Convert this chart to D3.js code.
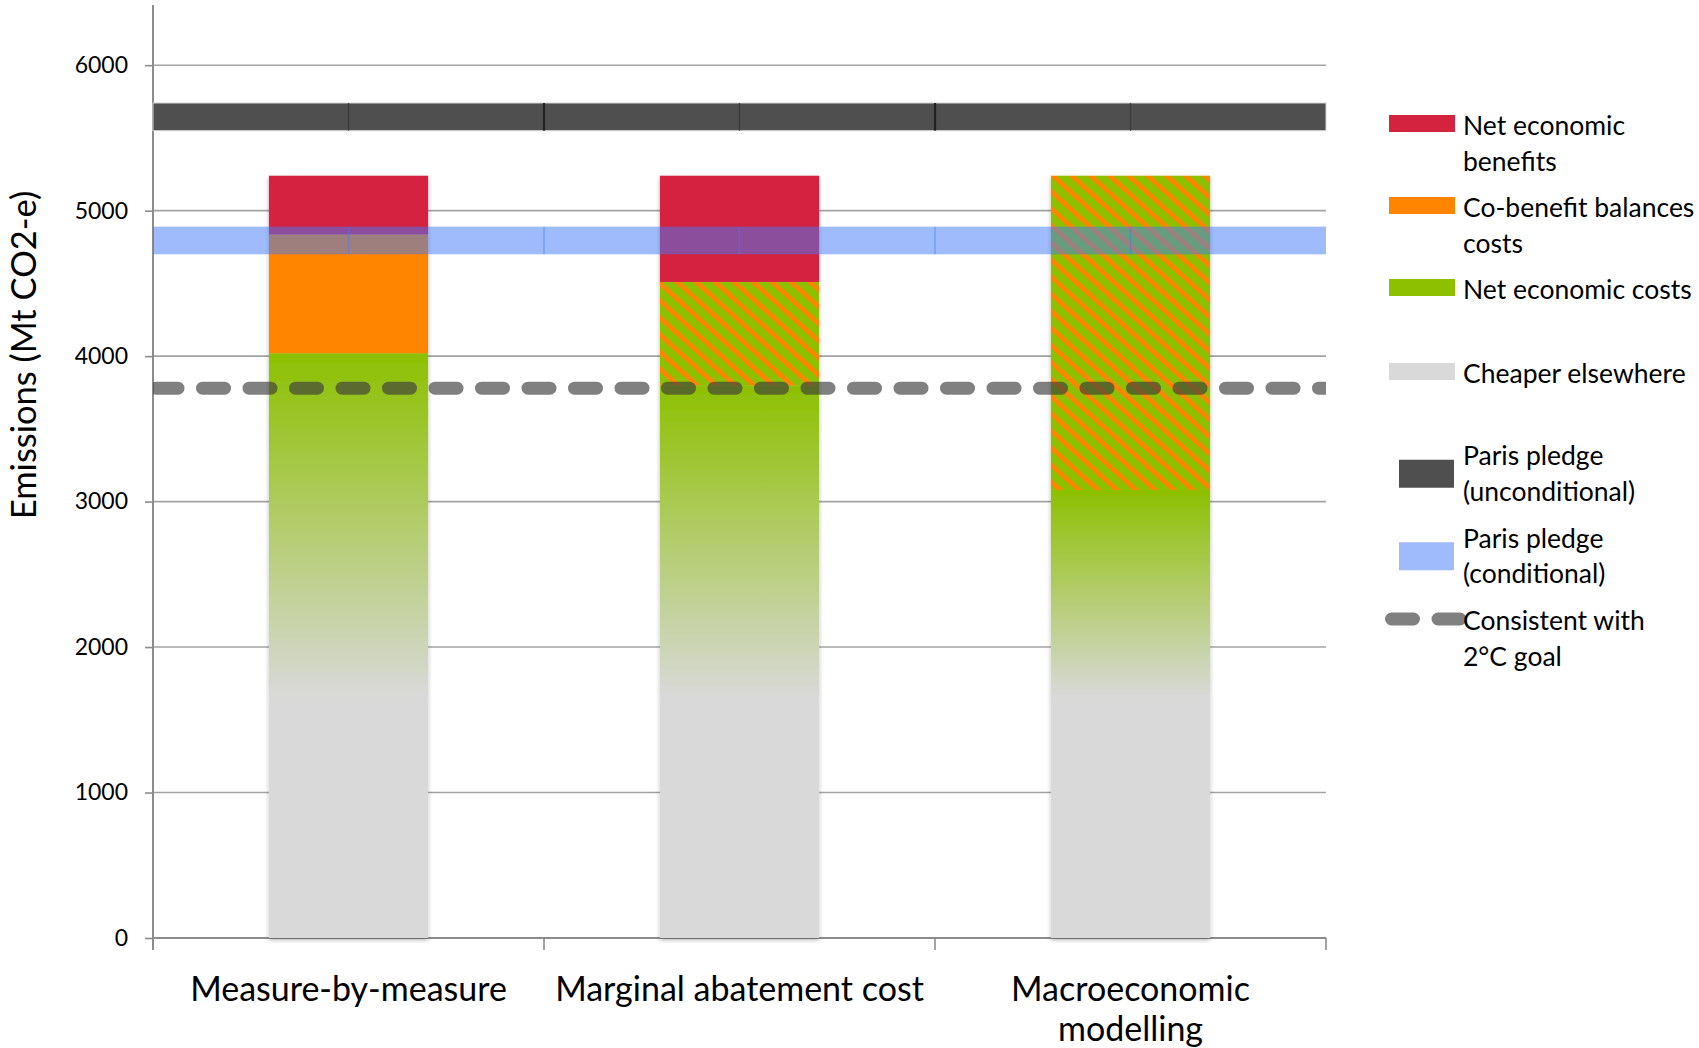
<!DOCTYPE html>
<html>
<head>
<meta charset="utf-8">
<script src="https://cdn.jsdelivr.net/npm/d3@7"></script>
<style>
  body { margin: 0; background: #fff; }
  svg { display: block; }
  text { font-family: Lato, "Open Sans", sans-serif; fill: #000; }
</style>
</head>
<body>
<svg id="chart" width="1699" height="1048"></svg>
<script>
// ---- data (Mt CO2-e) ----
const categories = ["Measure-by-measure", "Marginal abatement cost", "Macroeconomic modelling"];
const categoryLabelLines = [["Measure-by-measure"], ["Marginal abatement cost"], ["Macroeconomic", "modelling"]];
const cheaperElsewhere    = [1650, 1650, 1650];
const netEconomicCosts    = [2370, 2150, 1430];
const costsOrCoBenefits   = [0, 710, 2160];   // uncertain: co-benefits may or may not balance costs
const coBenefitBalances   = [816, 0, 0];
const netEconomicBenefits = [404, 730, 0];
const parisUnconditional  = [5550, 5740];
const parisConditional    = [4700, 4890];
const goal2C = 3780;
const yTicks = [0, 1000, 2000, 3000, 4000, 5000, 6000];
const legendLabels = [
  ["Net economic", "benefits"],
  ["Co-benefit balances", "costs"],
  ["Net economic costs"],
  ["Cheaper elsewhere"],
  ["Paris pledge", "(unconditional)"],
  ["Paris pledge", "(conditional)"],
  ["Consistent with", "2°C goal"]
];

// ---- setup ----
const svg = d3.select("#chart");
const plot = { left: 153, right: 1326, top: 7, bottom: 938 };

const x = d3.scaleBand().domain(categories).range([plot.left, plot.right]).padding(0);
const y = d3.scaleLinear().domain([0, 6400]).range([plot.bottom, plot.top]);
const barW = x.bandwidth() * 0.407;

const colors = {
  cheaper: "#d9d9d9",
  costs: "#8dc000",
  cobenefit: "#ff8500",
  benefits: "#d4233f",
  unconditional: "#4f4f4f",
  conditional: "rgb(67,122,247)",
  goal: "rgb(61,61,61)"
};

const defs = svg.append("defs");
const fade = defs.append("linearGradient").attr("id", "greenFade")
  .attr("x1", 0).attr("y1", 0).attr("x2", 0).attr("y2", 1);
fade.append("stop").attr("offset", 0).attr("stop-color", colors.costs);
fade.append("stop").attr("offset", 1).attr("stop-color", colors.cheaper);

const hatch = defs.append("pattern").attr("id", "hatch")
  .attr("patternUnits", "userSpaceOnUse").attr("width", 12.7).attr("height", 20)
  .attr("patternTransform", "rotate(-48)");
hatch.append("rect").attr("width", 12.7).attr("height", 20).attr("fill", colors.costs);
hatch.append("rect").attr("width", 4.7).attr("height", 20).attr("fill", colors.cobenefit);

const shadow = defs.append("filter").attr("id", "barShadow")
  .attr("x", "-10%").attr("y", "-5%").attr("width", "120%").attr("height", "110%");
shadow.append("feDropShadow").attr("dx", 0).attr("dy", 2).attr("stdDeviation", 2)
  .attr("flood-color", "#000").attr("flood-opacity", 0.3);

defs.append("clipPath").attr("id", "plotClip")
  .append("rect").attr("x", plot.left).attr("y", 0)
  .attr("width", plot.right - plot.left).attr("height", plot.bottom);

// ---- gridlines & axes ----
svg.append("g").selectAll("line").data(yTicks.filter(d => d > 0)).join("line")
  .attr("x1", plot.left).attr("x2", plot.right)
  .attr("y1", d => y(d)).attr("y2", d => y(d))
  .attr("stroke", "#a3a3a3").attr("stroke-width", 1.6);

const yAxis = svg.append("g").attr("transform", `translate(${plot.left},0)`)
  .call(d3.axisLeft(y).tickValues(yTicks).tickSize(8).tickPadding(17).tickFormat(d3.format("d")));
yAxis.select(".domain").remove();
yAxis.selectAll(".tick line").attr("stroke", "#8c8c8c").attr("stroke-width", 1.6);
yAxis.selectAll(".tick text").attr("font-size", 23).attr("font-family", "Lato, sans-serif").attr("fill", "#000");

svg.append("line").attr("x1", plot.left).attr("x2", plot.left)
  .attr("y1", 5).attr("y2", plot.bottom + 12)
  .attr("stroke", "#8c8c8c").attr("stroke-width", 2);
svg.append("line").attr("x1", plot.left).attr("x2", plot.right)
  .attr("y1", y(0)).attr("y2", y(0))
  .attr("stroke", "#8c8c8c").attr("stroke-width", 2);

const bandEdges = categories.map(c => x(c)).concat([plot.right]);
svg.append("g").selectAll("line").data(bandEdges).join("line")
  .attr("x1", d => d).attr("x2", d => d)
  .attr("y1", y(0)).attr("y2", y(0) + 12)
  .attr("stroke", "#8c8c8c").attr("stroke-width", 1.6);

// ---- stacked bars ----
const rows = categories.map((c, i) => ({
  category: c,
  cheaper: cheaperElsewhere[i],
  costs: netEconomicCosts[i],
  mixed: costsOrCoBenefits[i],
  cobenefit: coBenefitBalances[i],
  benefits: netEconomicBenefits[i]
}));
const keys = ["cheaper", "costs", "mixed", "cobenefit", "benefits"];
const fills = {
  cheaper: colors.cheaper,
  costs: "url(#greenFade)",
  mixed: "url(#hatch)",
  cobenefit: colors.cobenefit,
  benefits: colors.benefits
};
const stacked = d3.stack().keys(keys)(rows);

const barGroups = svg.append("g").selectAll("g").data(categories).join("g")
  .attr("filter", "url(#barShadow)");
barGroups.each(function (c, i) {
  const g = d3.select(this);
  stacked.forEach(layer => {
    const seg = layer[i];
    if (seg[1] - seg[0] <= 0) return;
    g.append("rect")
      .attr("x", x(c) + (x.bandwidth() - barW) / 2)
      .attr("width", barW)
      .attr("y", y(seg[1]))
      .attr("height", y(seg[0]) - y(seg[1]))
      .attr("fill", fills[layer.key]);
  });
});

// ---- pledge bands (drawn as segments between band edges and centres) ----
const joints = [];
categories.forEach(c => { joints.push(x(c)); joints.push(x(c) + x.bandwidth() / 2); });
joints.push(plot.right);

// unconditional pledge
svg.append("rect")
  .attr("x", plot.left).attr("width", plot.right - plot.left)
  .attr("y", y(parisUnconditional[1])).attr("height", y(parisUnconditional[0]) - y(parisUnconditional[1]))
  .attr("fill", colors.unconditional).attr("stroke", "#d2d2d2").attr("stroke-width", 1);
svg.append("g").selectAll("line").data(joints.slice(1, -1)).join("line")
  .attr("x1", d => d).attr("x2", d => d)
  .attr("y1", y(parisUnconditional[1])).attr("y2", y(parisUnconditional[0]))
  .attr("stroke", (d, i) => i % 2 === 1 ? "#222" : "#3a3a3a")
  .attr("stroke-width", (d, i) => i % 2 === 1 ? 2.2 : 1.3);

// conditional pledge (translucent over the bars)
svg.append("rect")
  .attr("x", plot.left).attr("width", plot.right - plot.left)
  .attr("y", y(parisConditional[1])).attr("height", y(parisConditional[0]) - y(parisConditional[1]))
  .attr("fill", colors.conditional).attr("fill-opacity", 0.51);
svg.append("g").selectAll("line").data(joints.slice(1, -1)).join("line")
  .attr("x1", d => d).attr("x2", d => d)
  .attr("y1", y(parisConditional[1])).attr("y2", y(parisConditional[0]))
  .attr("stroke", colors.conditional).attr("stroke-opacity", 0.45).attr("stroke-width", 1.5);

// 2°C pathway
svg.append("line")
  .attr("clip-path", "url(#plotClip)")
  .attr("x1", plot.left + 3).attr("x2", plot.right + 20)
  .attr("y1", y(goal2C)).attr("y2", y(goal2C))
  .attr("stroke", colors.goal).attr("stroke-opacity", 0.655)
  .attr("stroke-width", 13).attr("stroke-linecap", "round")
  .attr("stroke-dasharray", "22 24.5");

// ---- axis titles & category labels ----
svg.append("text")
  .attr("transform", `translate(24,355) rotate(-90)`)
  .attr("text-anchor", "middle").attr("dy", "0.35em")
  .attr("font-size", 34.5).text("Emissions (Mt CO2-e)");

svg.append("g").selectAll("text").data(categories).join("text")
  .attr("text-anchor", "middle")
  .attr("font-size", 34)
  .each(function (c, i) {
    const t = d3.select(this);
    categoryLabelLines[i].forEach((line, j) => {
      t.append("tspan")
        .attr("x", x(c) + x.bandwidth() / 2)
        .attr("y", 989 + j * 40)
        .attr("dy", "0.35em")
        .text(line);
    });
  });

// ---- legend ----
const legendRowY = [126, 208, 290, 374, 456, 538.5, 621];
const legendLine = 35.5;
const legendTextX = 1463;
const lg = svg.append("g");
legendLabels.forEach((lines, i) => {
  const cy = legendRowY[i];
  if (i < 4) {
    const f = [colors.benefits, colors.cobenefit, colors.costs, colors.cheaper][i];
    lg.append("rect").attr("x", 1389).attr("y", cy - 11).attr("width", 66).attr("height", 17).attr("fill", f);
  } else if (i < 6) {
    const mid = cy + legendLine / 2;
    lg.append("rect").attr("x", 1399).attr("y", mid - 14).attr("width", 55).attr("height", 28)
      .attr("fill", i === 4 ? colors.unconditional : colors.conditional)
      .attr("fill-opacity", i === 4 ? 1 : 0.51);
  } else {
    lg.append("line").attr("x1", 1391.5).attr("x2", 1460).attr("y1", cy - 2).attr("y2", cy - 2)
      .attr("stroke", colors.goal).attr("stroke-opacity", 0.655)
      .attr("stroke-width", 13).attr("stroke-linecap", "round")
      .attr("stroke-dasharray", "22 24.5");
  }
  const t = lg.append("text").attr("font-size", 26.5);
  lines.forEach((line, j) => {
    t.append("tspan").attr("x", legendTextX).attr("y", cy + j * legendLine).attr("dy", "0.35em").text(line);
  });
});
</script>
</body>
</html>
